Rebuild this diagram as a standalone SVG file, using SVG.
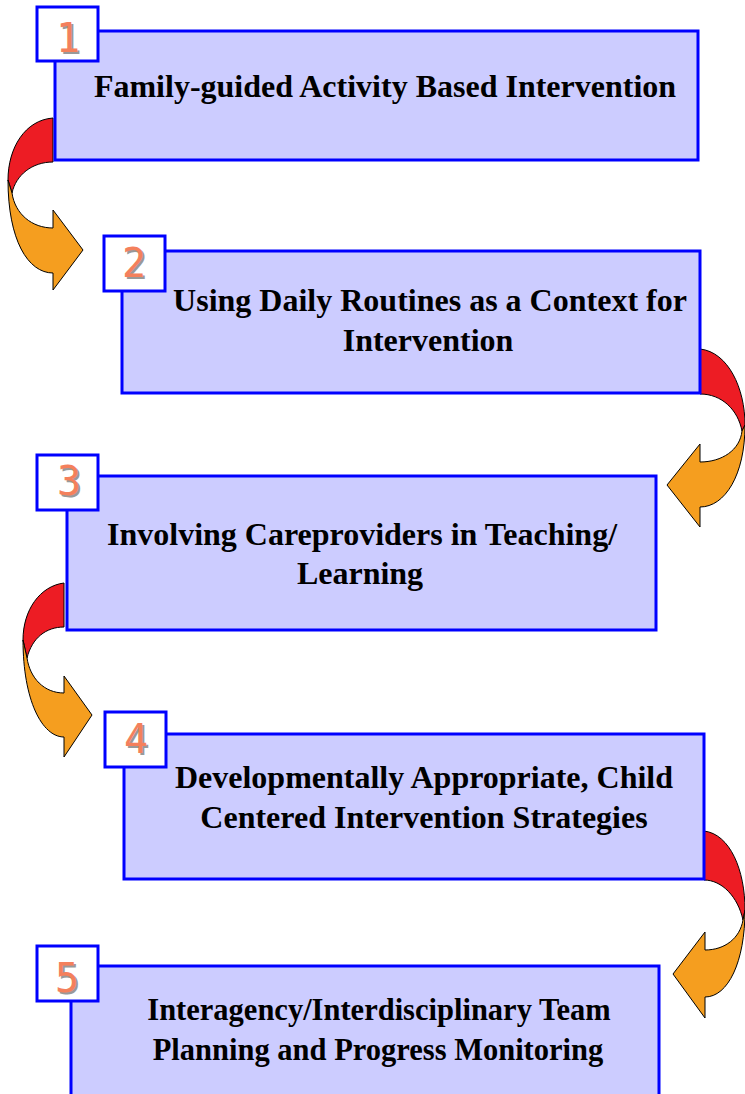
<svg xmlns="http://www.w3.org/2000/svg" width="745" height="1094" viewBox="0 0 745 1094">
  <style>
    .box { fill: #CCCCFF; stroke: #0000FF; stroke-width: 3; }
    .tag { fill: #FFFFFF; stroke: #0000FF; stroke-width: 3; }
    .title { font-family: "Liberation Serif", "Times New Roman", serif; font-weight: bold; font-size: 32px; fill: #000000; text-anchor: middle; }
    .small { font-size: 30.5px; }
    .num { font-family: "DejaVu Sans Mono", "Liberation Mono", monospace; font-size: 40px; text-anchor: middle; }
    .num-shadow { fill: #999999; }
    .num-face { fill: #F4805C; }
    .head { fill: #ED1C24; stroke: #000000; stroke-width: 1; }
    .tail { fill: #F59E1F; stroke: #000000; stroke-width: 1; }
  </style>

  <!-- curved arrows between steps -->
  <g id="connectors">
    <g id="arrow-1-2">
      <path class="head" d="M53,118 C25,120 8,148 8,180 L12,193 C16,175 32,162 53,162 Z"/>
      <path class="tail" d="M8,180 C8,240 28,273 53,273 L53,290 L83,250 L53,210 L53,228 C32,228 15,214 12,193 Z"/>
    </g>
    <g id="arrow-2-3">
      <path class="head" d="M700,349 C728,352 745,388 745,425 L742,431 C738,410 722,394 700,394 Z"/>
      <path class="tail" d="M745,425 C745,475 725,507 700,507 L700,527 L667,485 L700,444 L700,462 C722,462 740,450 742,431 Z"/>
    </g>
    <g id="arrow-3-4">
      <path class="head" d="M64,583 C40,586 23,610 23,640 L27,658 C32,638 46,627 64,627 Z"/>
      <path class="tail" d="M23,640 C23,700 42,737 64,737 L64,757 L92,715 L64,676 L64,693 C44,693 30,678 27,658 Z"/>
    </g>
    <g id="arrow-4-5">
      <path class="head" d="M704,831 C730,834 745,870 745,910 L743,920 C738,897 722,880 704,880 Z"/>
      <path class="tail" d="M745,910 C745,962 728,997 705,997 L705,1018 L673,974 L705,932 L705,950 C725,950 740,938 743,920 Z"/>
    </g>
  </g>

  <g id="step-1">
    <rect class="box" x="55" y="31" width="643" height="129"/>
    <rect class="tag" x="37" y="7" width="61" height="54"/>
    <text class="num num-shadow" x="70" y="54">1</text>
    <text class="num num-face" x="68" y="52">1</text>
    <text class="title" x="385" y="97">Family-guided Activity Based Intervention</text>
  </g>

  <g id="step-2">
    <rect class="box" x="122" y="251" width="578" height="142"/>
    <rect class="tag" x="104" y="236" width="61" height="55"/>
    <text class="num num-shadow" x="136" y="279">2</text>
    <text class="num num-face" x="134" y="277">2</text>
    <text class="title" x="430" y="311">Using Daily Routines as a Context for</text>
    <text class="title" x="428" y="351">Intervention</text>
  </g>

  <g id="step-3">
    <rect class="box" x="67" y="476" width="589" height="154"/>
    <rect class="tag" x="37" y="455" width="61" height="55"/>
    <text class="num num-shadow" x="71" y="497">3</text>
    <text class="num num-face" x="69" y="495">3</text>
    <text class="title" x="362" y="545">Involving Careproviders in Teaching/</text>
    <text class="title" x="360" y="584">Learning</text>
  </g>

  <g id="step-4">
    <rect class="box" x="124" y="734" width="580" height="145"/>
    <rect class="tag" x="105" y="712" width="61" height="55"/>
    <text class="num num-shadow" x="138" y="755">4</text>
    <text class="num num-face" x="136" y="753">4</text>
    <text class="title" x="424" y="788">Developmentally Appropriate, Child</text>
    <text class="title" x="424" y="828">Centered Intervention Strategies</text>
  </g>

  <g id="step-5">
    <rect class="box" x="71" y="966" width="588" height="140"/>
    <rect class="tag" x="37" y="946" width="61" height="55"/>
    <text class="num num-shadow" x="69" y="994">5</text>
    <text class="num num-face" x="67" y="992">5</text>
    <text class="title small" x="379" y="1020">Interagency/Interdisciplinary Team</text>
    <text class="title small" x="378" y="1060">Planning and Progress Monitoring</text>
  </g>
</svg>
